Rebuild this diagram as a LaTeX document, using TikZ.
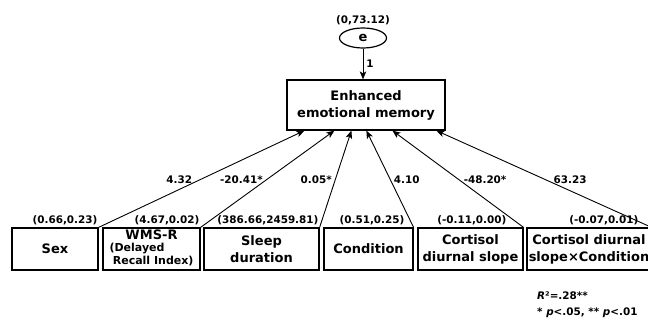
\documentclass[tikz,border=0pt]{standalone}
\usepackage{fontspec}
\setmainfont{DejaVu Sans}
\usetikzlibrary{arrows.meta,positioning,shapes.geometric}

\tikzset{
  var/.style={draw, line width=1.2pt, minimum height=42pt, align=center,
    inner sep=1pt, font=\fontsize{13}{17}\selectfont\bfseries},
  est/.style={font=\fontsize{10.4}{12}\selectfont\bfseries, inner sep=1pt},
  path/.style={-{Stealth[length=8pt,width=6.5pt,inset=2pt]}, line width=0.9pt},
}
\newcommand{\subfont}{\fontsize{11}{11.5}\selectfont}

\begin{document}
\begin{tikzpicture}[x=1pt, y=-1pt]
  \useasboundingbox (0,0) rectangle (648,320);
  % outcome and its error term
  \node[var, minimum width=158pt, minimum height=50pt] (eem) at (366,105)
    {Enhanced\\emotional memory};
  \node[draw, ellipse, line width=1.2pt, minimum width=47pt, minimum height=20pt,
    inner sep=0pt, font=\fontsize{13}{14}\selectfont\bfseries] (e) at (363,38) {e};
  \node[est, above=1pt of e] (evar) {(0,73.12)};
  \draw[path] (e) -- (e |- eem.north) node[midway, right, est, xshift=2pt] {1};

  % predictors
  \node[var, minimum width=86pt]  (sex)   at (55,249)    {Sex};
  \node[var, minimum width=97pt]  (wms)   at (151.5,249)
    {\def\arraystretch{0.72}%
     \begin{tabular}{@{}l@{}}
       \multicolumn{1}{@{}c@{}}{WMS-R}\\
       \subfont(Delayed\\
       \subfont\hspace*{0.3em}Recall Index)
     \end{tabular}};
  \node[var, minimum width=115pt] (sleep) at (261.5,249) {Sleep\\duration};
  \node[var, minimum width=89pt]  (cond)  at (368.5,249) {Condition};
  \node[var, minimum width=105pt] (cort)  at (470.5,249) {Cortisol\\diurnal slope};
  \node[var, minimum width=124pt] (inter) at (589,249)   {Cortisol diurnal\\slope×Condition};

  % means and variances
  \node[est, above left=1pt and 0pt of sex.north east]    (sexvar)   {(0.66,0.23)};
  \node[est, above left=1pt and 0pt of wms.north east]    (wmsvar)   {(4.67,0.02)};
  \node[est, above left=1pt and 0pt of sleep.north east]  (sleepvar) {(386.66,2459.81)};
  \node[est, above left=1pt and 8pt of cond.north east]   (condvar)  {(0.51,0.25)};
  \node[est, above left=1pt and 16pt of cort.north east]  (cortvar)  {(-0.11,0.00)};
  \node[est, above left=1pt and 12pt of inter.north east] (intervar) {(-0.07,0.01)};

  % arrow ends on the outcome box
  \foreach \n/\dx in {1/18, 2/48, 3/65, 4/80, 5/106, 6/150}
    \path (eem.south west) ++(\dx,0) coordinate (t\n);

  % paths
  \draw[path] (sex.north east)   -- (t1) node[pos=0.49, anchor=east, est, xshift=-6pt] {4.32};
  \draw[path] (wms.north east)   -- (t2) node[pos=0.49, anchor=east, est, xshift=-2pt] {-20.41*};
  \draw[path] (sleep.north east) -- (t3) node[pos=0.49, anchor=east, est, xshift=-2pt] {0.05*};
  \draw[path] (cond.north east)  -- (t4) node[pos=0.49, anchor=west, est, xshift=2pt] {4.10};
  \draw[path] (cort.north east)  -- (t5) node[pos=0.49, anchor=west, est, xshift=3pt] {-48.20*};
  \draw[path] (inter.north east) -- (t6) node[pos=0.49, anchor=west, est, xshift=6pt] {63.23};

  % fit and significance note
  \node[est, anchor=west] (r2)  at (536,296) {\textit{R}²=.28**};
  \node[est, anchor=west] (sig) at (536,313) {* \textit{p}<.05, ** \textit{p}<.01};
\end{tikzpicture}
\end{document}
